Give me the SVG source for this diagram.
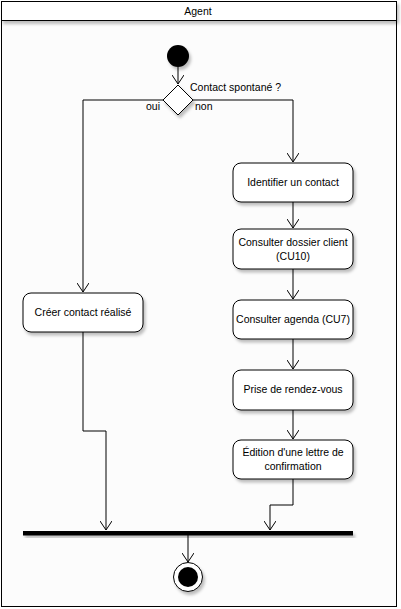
<svg xmlns="http://www.w3.org/2000/svg" width="401" height="609" viewBox="0 0 401 609">
<style>
text{font-family:"Liberation Sans",Arial,sans-serif;font-size:10.5px;fill:#000}
.act{fill:#fff;stroke:#000;stroke-width:1;filter:url(#sh)}
.c{fill:none;stroke:#000;stroke-width:1}
</style>
<defs>
<filter id="sh" x="-20%" y="-20%" width="150%" height="160%">
<feDropShadow dx="2" dy="3" stdDeviation="1.5" flood-color="#000" flood-opacity="0.25"/>
</filter>
<marker id="a" markerWidth="12" markerHeight="12" refX="10" refY="6" orient="auto" markerUnits="userSpaceOnUse" viewBox="0 0 12 12">
<path d="M1,0 L10,6 L1,12" fill="none" stroke="#000" stroke-width="1"/>
</marker>
</defs>
<g id="lane">
<rect x="1.5" y="1.5" width="395" height="605" fill="#fcfcfc" stroke="#000"/>
<rect x="1.5" y="1.5" width="395" height="19" fill="#fff" stroke="#000" filter="url(#sh)"/>
<text x="198" y="15" text-anchor="middle">Agent</text>
</g>
<g id="connectors">
<path class="c" d="M178,67 V84" marker-end="url(#a)"/>
<path class="c" d="M163,100 H83 V292" marker-end="url(#a)"/>
<path class="c" d="M193,100 H293 V162" marker-end="url(#a)"/>
<path class="c" d="M293,202 V228" marker-end="url(#a)"/>
<path class="c" d="M293,269 V299" marker-end="url(#a)"/>
<path class="c" d="M293,339 V369" marker-end="url(#a)"/>
<path class="c" d="M293,410 V439" marker-end="url(#a)"/>
<path class="c" d="M293,479 V505 H270 V530" marker-end="url(#a)"/>
<path class="c" d="M83,332 V431 H106 V530" marker-end="url(#a)"/>
<path class="c" d="M188,535 V562" marker-end="url(#a)"/>
</g>
<g id="start"><circle cx="178" cy="56" r="11" fill="#000" filter="url(#sh)"/></g>
<g id="decision">
<polygon points="178,85 193,100 178,115 163,100" fill="#fff" stroke="#000" filter="url(#sh)"/>
<text x="190" y="91">Contact spontané ?</text>
<text x="146" y="110">oui</text>
<text x="195" y="110">non</text>
</g>
<g id="n1"><rect class="act" x="233" y="163" width="120" height="39" rx="8"/><text x="293" y="186" text-anchor="middle">Identifier un contact</text></g>
<g id="n2"><rect class="act" x="233" y="229" width="120" height="40" rx="8"/><text x="293" y="246" text-anchor="middle">Consulter dossier client</text><text x="293" y="260" text-anchor="middle">(CU10)</text></g>
<g id="n3"><rect class="act" x="233" y="300" width="120" height="39" rx="8"/><text x="293" y="323" text-anchor="middle">Consulter agenda (CU7)</text></g>
<g id="n4"><rect class="act" x="233" y="370" width="120" height="40" rx="8"/><text x="293" y="393" text-anchor="middle">Prise de rendez-vous</text></g>
<g id="n5"><rect class="act" x="233" y="440" width="120" height="39" rx="8"/><text x="293" y="456" text-anchor="middle">Édition d'une lettre de</text><text x="293" y="470" text-anchor="middle">confirmation</text></g>
<g id="n6"><rect class="act" x="23" y="293" width="120" height="39" rx="8"/><text x="83" y="316" text-anchor="middle">Créer contact réalisé</text></g>
<g id="join"><rect x="23" y="531" width="330" height="4.5" fill="#000" filter="url(#sh)"/></g>
<g id="end">
<circle cx="188" cy="577" r="14.5" fill="#fff" stroke="#000" stroke-width="1" filter="url(#sh)"/>
<circle cx="188" cy="577" r="10" fill="#000"/>
</g>
</svg>
